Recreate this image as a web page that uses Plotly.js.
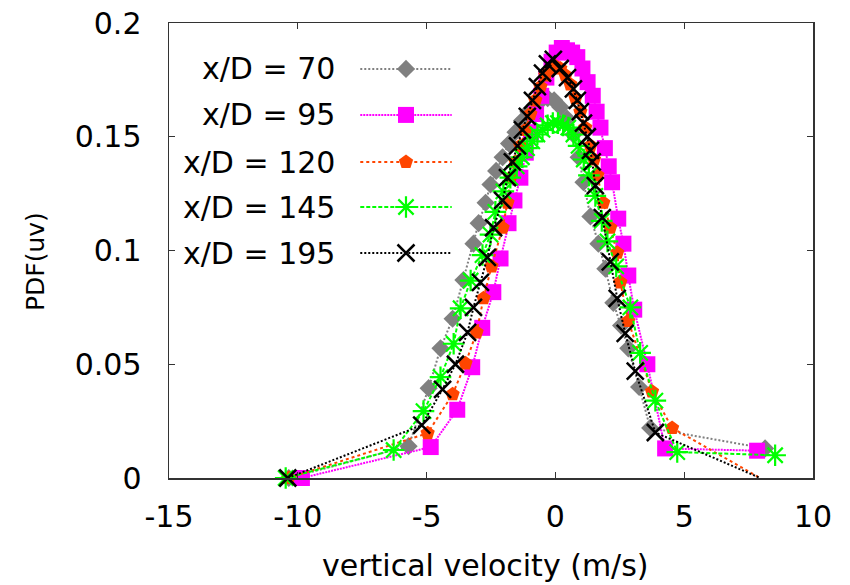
<!DOCTYPE html>
<html>
<head>
<meta charset="utf-8">
<script src="https://cdn.plot.ly/plotly-3.0.1.min.js"></script>
<style>html,body{margin:0;padding:0;background:#fff;}#chart{width:850px;height:585px;}</style>
</head>
<body>
<div id="chart"></div>
<script>
// ---- data ----
const seriesNames = ["x/D = 70", "x/D = 95", "x/D = 120", "x/D = 145", "x/D = 195"];

const x70 = [-10.35, -5.70, -4.92, -4.46, -3.99, -3.57, -3.18, -2.98, -2.71, -2.52, -2.30, -2.05, -1.80, -1.55, -1.30, -1.05, -0.80, -0.55, -0.30, -0.05, 0.20, 0.45, 0.70, 0.90, 1.09, 1.36, 1.67, 1.94, 2.25, 2.55, 2.83, 3.25, 3.68, 8.14];
const y70 = [0, 0.014, 0.0395, 0.057, 0.070, 0.087, 0.103, 0.112, 0.121, 0.129, 0.135, 0.141, 0.147, 0.152, 0.157, 0.161, 0.164, 0.166, 0.167, 0.166, 0.163, 0.158, 0.151, 0.141, 0.130, 0.115, 0.103, 0.092, 0.077, 0.067, 0.057, 0.040, 0.022, 0.013];

const x95 = [-9.84, -4.84, -3.81, -3.23, -2.84, -2.41, -2.13, -1.82, -1.59, -1.36, -1.15, -0.95, -0.75, -0.55, -0.35, -0.15, 0.05, 0.25, 0.45, 0.65, 0.85, 1.05, 1.25, 1.45, 1.60, 1.75, 1.92, 2.07, 2.20, 2.44, 2.64, 2.83, 3.06, 3.57, 4.26, 7.83];
const y95 = [0, 0.0136, 0.030, 0.0487, 0.066, 0.0817, 0.0965, 0.112, 0.122, 0.132, 0.143, 0.152, 0.160, 0.168, 0.176, 0.183, 0.187, 0.189, 0.188, 0.187, 0.185, 0.180, 0.174, 0.168, 0.161, 0.154, 0.145, 0.137, 0.130, 0.114, 0.103, 0.089, 0.074, 0.050, 0.013, 0.012];

const x120 = [-10.35, -4.96, -3.99, -3.49, -3.06, -2.79, -2.48, -2.05, -1.86, -1.74, -1.55, -1.36, -1.16, -0.97, -0.78, -0.58, -0.39, -0.19, 0.00, 0.19, 0.39, 0.58, 0.78, 0.97, 1.16, 1.36, 1.50, 1.63, 1.86, 2.13, 2.40, 2.52, 2.83, 3.75, 4.53, 7.95];
const y120 = [0, 0.0197, 0.0368, 0.0504, 0.064, 0.079, 0.093, 0.110, 0.121, 0.132, 0.139, 0.146, 0.153, 0.160, 0.166, 0.172, 0.177, 0.180, 0.181, 0.180, 0.177, 0.173, 0.167, 0.161, 0.154, 0.146, 0.140, 0.133, 0.121, 0.110, 0.099, 0.086, 0.069, 0.038, 0.022, 0];

const x145 = [-10.47, -6.28, -5.12, -4.46, -3.95, -3.68, -3.29, -2.83, -2.52, -2.33, -2.02, -1.75, -1.50, -1.30, -1.10, -0.90, -0.70, -0.50, -0.30, -0.10, 0.10, 0.30, 0.50, 0.70, 0.90, 1.10, 1.30, 1.55, 1.80, 2.02, 2.36, 2.91, 3.29, 3.88, 4.73, 8.53];
const y145 = [0, 0.0123, 0.0294, 0.0443, 0.059, 0.0746, 0.0868, 0.098, 0.107, 0.117, 0.126, 0.132, 0.137, 0.141, 0.145, 0.148, 0.151, 0.153, 0.155, 0.156, 0.156, 0.155, 0.154, 0.151, 0.146, 0.140, 0.133, 0.124, 0.113, 0.104, 0.093, 0.075, 0.055, 0.034, 0.0114, 0.010];

const x195 = [-10.39, -5.19, -4.38, -3.88, -3.41, -3.18, -2.91, -2.64, -2.40, -2.05, -1.86, -1.67, -1.47, -1.28, -1.09, -0.89, -0.70, -0.50, -0.31, -0.08, 0.19, 0.47, 0.70, 0.85, 0.97, 1.09, 1.24, 1.36, 1.43, 1.55, 1.82, 2.13, 2.40, 2.71, 3.10, 3.88, 7.95];
const y195 = [0, 0.0232, 0.039, 0.050, 0.064, 0.075, 0.086, 0.097, 0.110, 0.122, 0.132, 0.139, 0.146, 0.153, 0.159, 0.166, 0.172, 0.178, 0.182, 0.184, 0.180, 0.176, 0.171, 0.166, 0.161, 0.156, 0.150, 0.144, 0.139, 0.1285, 0.1145, 0.095, 0.079, 0.0636, 0.047, 0.020, 0];

const xTickVals = [-15, -10, -5, 0, 5, 10];
const xTickText = ["-15", "-10", "-5", "0", "5", "10"];
const yTickVals = [0, 0.05, 0.1, 0.15, 0.2];
const yTickText = ["0", "0.05", "0.1", "0.15", "0.2"];

// ---- styles ----
const FONT = "DejaVu Sans, Liberation Sans, Arial, sans-serif";
const styles = [
  {color: "#808080", symbol: "diamond", size: 14, dash: "2px,2px", lw: 2, mlw: 0, hideLast: false},
  {color: "#ff00ff", symbol: "square", size: 16, dash: "2px,1px", lw: 2, mlw: 0, hideLast: false},
  {color: "#ff4500", symbol: "pentagon", size: 15, dash: "3px,3px", lw: 2, mlw: 0, hideLast: true},
  {color: "#00ff00", symbol: "asterisk-open", size: 18, dash: "4px,2px", lw: 2, mlw: 2.2, hideLast: false},
  {color: "#000000", symbol: "x-thin-open", size: 17, dash: "2px,2px", lw: 2, mlw: 2.5, hideLast: true}
];
const xs = [x70, x95, x120, x145, x195];
const ys = [y70, y95, y120, y145, y195];

const traces = [];
for (let i = 0; i < 5; i++) {
  const s = styles[i];
  // the line of the last point runs into the axis, where the reference shows no symbol
  const sizes = xs[i].map((_, k) => (s.hideLast && k === xs[i].length - 1) ? 0 : s.size);
  traces.push({
    type: "scatter", mode: "lines+markers", name: seriesNames[i],
    x: xs[i], y: ys[i], cliponaxis: false, showlegend: false,
    line: {color: s.color, width: s.lw, dash: s.dash},
    marker: {symbol: s.symbol, size: sizes, color: s.color, opacity: 1,
             line: {color: s.color, width: s.mlw}}
  });
}

// ---- gnuplot-style key (text left, sample right), on an overlay axis ----
const keyLineX = [0.297, 0.368, 0.439];
const keyRowsY = [0.899, 0.798, 0.6945, 0.5956, 0.4945];
const annotations = [];
for (let i = 0; i < 5; i++) {
  const s = styles[i];
  const yy = keyRowsY[i];
  traces.push({
    type: "scatter", mode: "lines+markers", xaxis: "x2", yaxis: "y2",
    x: keyLineX, y: [yy, yy, yy], showlegend: false, hoverinfo: "skip",
    line: {color: s.color, width: s.lw, dash: s.dash},
    marker: {symbol: s.symbol, size: [0, s.size, 0], color: s.color, opacity: 1,
             line: {color: s.color, width: s.mlw}}
  });
  annotations.push({
    xref: "paper", yref: "paper", x: 0.261, y: yy,
    xanchor: "right", yanchor: "middle", showarrow: false,
    text: seriesNames[i], font: {family: FONT, size: 30, color: "#000"}
  });
}
annotations.push({
  xref: "paper", yref: "paper", x: 0.4907, y: -0.193,
  xanchor: "center", yanchor: "middle", showarrow: false,
  text: "vertical velocity (m/s)", font: {family: FONT, size: 30, color: "#000"}
});
annotations.push({
  xref: "paper", yref: "paper", x: -0.208, y: 0.4747,
  xanchor: "center", yanchor: "middle", showarrow: false, textangle: -90,
  text: "PDF(uv)", font: {family: FONT, size: 25, color: "#000"}
});

const axisCommon = {
  showline: true, linecolor: "#333", linewidth: 1.5, mirror: "ticks",
  ticks: "inside", ticklen: 6, tickwidth: 1, tickcolor: "#333",
  showgrid: false, zeroline: false,
  tickfont: {family: FONT, size: 30, color: "#000"}
};

const layout = {
  width: 850, height: 585,
  margin: {l: 169, r: 37, t: 23, b: 107},
  paper_bgcolor: "#fff", plot_bgcolor: "#fff",
  xaxis: Object.assign({}, axisCommon, {
    range: [-15, 10], tickmode: "array", tickvals: xTickVals, ticktext: xTickText,
    ticklabelstandoff: 11
  }),
  yaxis: Object.assign({}, axisCommon, {
    range: [0, 0.2], tickmode: "array", tickvals: yTickVals, ticktext: yTickText,
    ticklabelstandoff: 20
  }),
  xaxis2: {overlaying: "x", range: [0, 1], visible: false, fixedrange: true},
  yaxis2: {overlaying: "y", range: [0, 1], visible: false, fixedrange: true},
  annotations: annotations,
  showlegend: false
};

Plotly.newPlot("chart", traces, layout, {displayModeBar: false, staticPlot: true});
</script>
</body>
</html>
